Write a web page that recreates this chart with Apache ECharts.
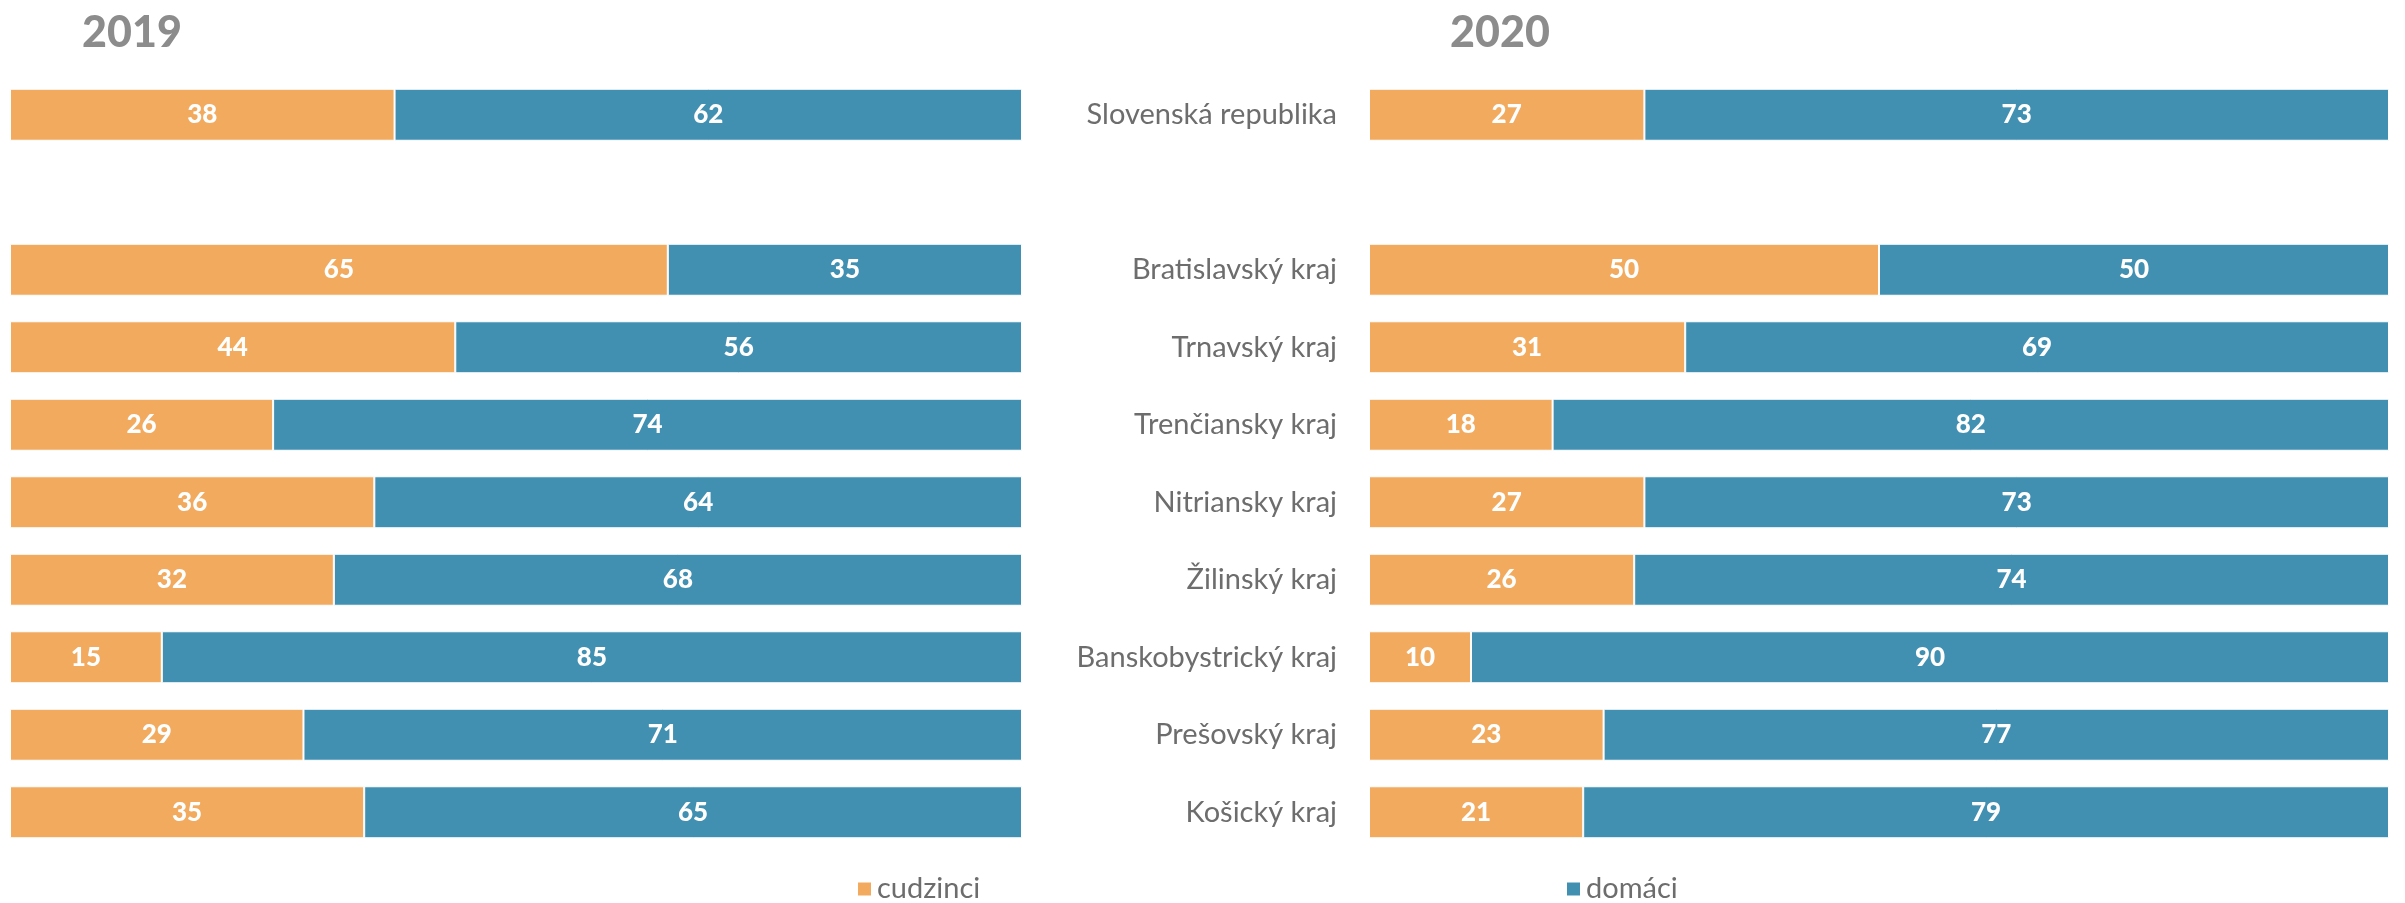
<!DOCTYPE html>
<html>
<head>
<meta charset="utf-8">
<script src="https://cdn.jsdelivr.net/npm/echarts@6/dist/echarts.min.js"></script>
<style>
html,body{margin:0;padding:0;background:#fff;}
#c{width:2405px;height:903px;}
</style>
</head>
<body>
<div id="c"></div>
<script>
const categories = ['Slovenská republika', '', 'Bratislavský kraj', 'Trnavský kraj', 'Trenčiansky kraj', 'Nitriansky kraj', 'Žilinský kraj', 'Banskobystrický kraj', 'Prešovský kraj', 'Košický kraj'];
const cudzinci2019 = [38, null, 65, 44, 26, 36, 32, 15, 29, 35];
const domaci2019   = [62, null, 35, 56, 74, 64, 68, 85, 71, 65];
const cudzinci2020 = [27, null, 50, 31, 18, 27, 26, 10, 23, 21];
const domaci2020   = [73, null, 50, 69, 82, 73, 74, 90, 77, 79];
const titles = ['2019', '2020'];
const seriesNames = ['cudzinci', 'domáci'];

const ORANGE = '#F2AA5E';
const BLUE = '#4190B2';
const FONT = 'Lato';

const chart = echarts.init(document.getElementById('c'), null, {renderer: 'canvas'});

function barSeries(name, data, idx, color) {
  return {
    name: name,
    type: 'bar',
    stack: 's' + idx,
    xAxisIndex: idx,
    yAxisIndex: idx,
    data: data,
    barWidth: 52,
    itemStyle: {color: color, borderColor: '#ffffff', borderWidth: 1},
    label: {
      show: true,
      position: 'inside',
      color: '#ffffff',
      fontFamily: FONT,
      fontWeight: 900,
      fontSize: 26
    },
    emphasis: {disabled: true},
    animation: false
  };
}

const legendText = {fontFamily: FONT, fontSize: 29, color: '#6D6D6D', lineHeight: 30};

const option = {
  animation: false,
  title: [
    {text: titles[0], left: 127, top: 28, textAlign: 'center', textVerticalAlign: 'middle',
     textStyle: {fontFamily: FONT, fontWeight: 900, fontSize: 43, color: '#8C8C8C'}},
    {text: titles[1], left: 1495, top: 28, textAlign: 'center', textVerticalAlign: 'middle',
     textStyle: {fontFamily: FONT, fontWeight: 900, fontSize: 43, color: '#8C8C8C'}}
  ],
  legend: [
    {data: [seriesNames[0]], left: 856, top: 874, padding: 0, icon: 'rect', itemWidth: 15, itemHeight: 15, itemGap: 10,
     textStyle: legendText},
    {data: [seriesNames[1]], left: 1565, top: 874, padding: 0, icon: 'rect', itemWidth: 15, itemHeight: 15, itemGap: 10,
     textStyle: legendText}
  ],
  grid: [
    {left: 10, width: 1012, top: 76, height: 775, containLabel: false},
    {left: 1369, width: 1020, top: 76, height: 775, containLabel: false}
  ],
  xAxis: [
    {gridIndex: 0, type: 'value', min: 0, max: 100, show: false},
    {gridIndex: 1, type: 'value', min: 0, max: 100, show: false}
  ],
  yAxis: [
    {gridIndex: 0, type: 'category', data: categories, inverse: true, show: false},
    {gridIndex: 1, type: 'category', data: categories, inverse: true,
     axisLine: {show: false}, axisTick: {show: false}, splitLine: {show: false},
     axisLabel: {margin: 32, fontFamily: FONT, fontSize: 29, color: '#6D6D6D'}}
  ],
  series: [
    barSeries(seriesNames[0], cudzinci2019, 0, ORANGE),
    barSeries(seriesNames[1], domaci2019, 0, BLUE),
    barSeries(seriesNames[0], cudzinci2020, 1, ORANGE),
    barSeries(seriesNames[1], domaci2020, 1, BLUE)
  ]
};
chart.setOption(option);
</script>
</body>
</html>
